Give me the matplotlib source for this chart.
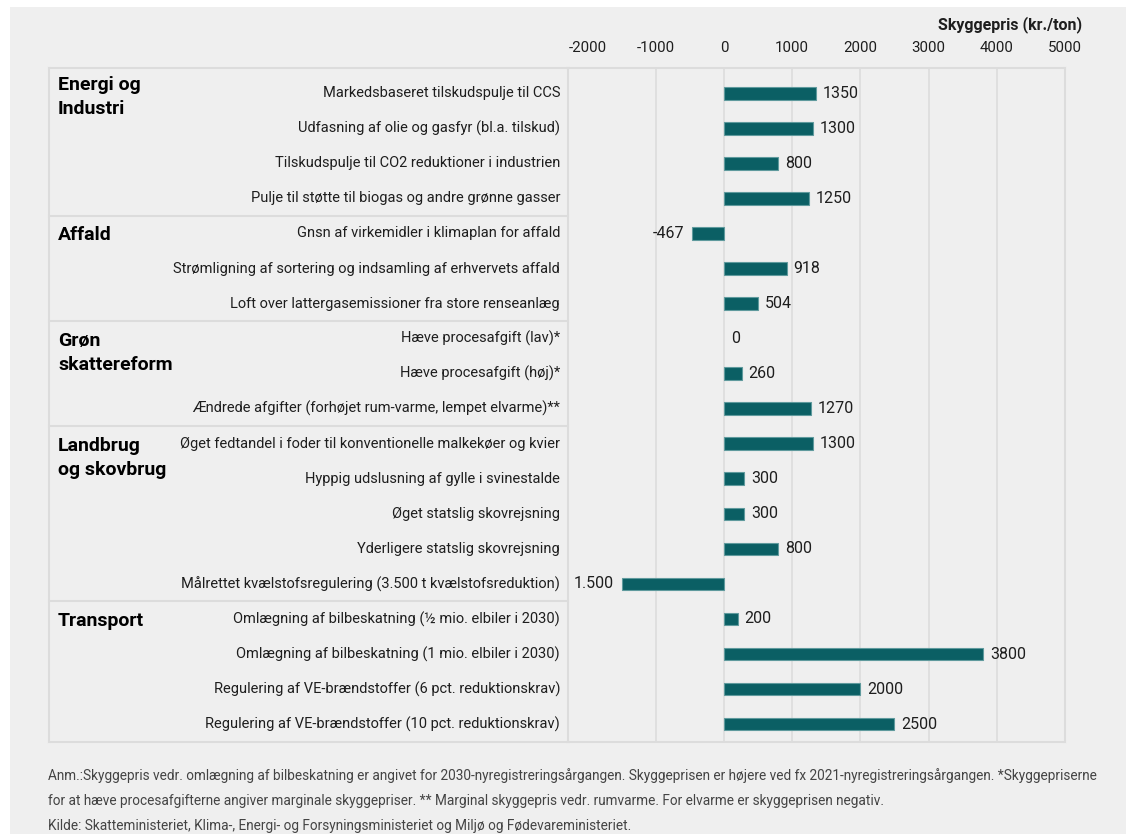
import numpy as np
import matplotlib
matplotlib.use("Agg")
import matplotlib.pyplot as plt
from matplotlib.lines import Line2D
from matplotlib.patches import Rectangle

plt.rcParams['font.family'] = ['Roboto', 'DejaVu Sans']

# data
groups = ["Energi og\nIndustri", "Affald", "Grøn\nskattereform",
          "Landbrug\nog skovbrug", "Transport"]
group_sizes = [4, 3, 3, 5, 4]
categories = [
    "Markedsbaseret tilskudspulje til CCS",
    "Udfasning af olie og gasfyr (bl.a. tilskud)",
    "Tilskudspulje til CO2 reduktioner i industrien",
    "Pulje til støtte til biogas og andre grønne gasser",
    "Gnsn af virkemidler i klimaplan for affald",
    "Strømligning af sortering og indsamling af erhvervets affald",
    "Loft over lattergasemissioner fra store renseanlæg",
    "Hæve procesafgift (lav)*",
    "Hæve procesafgift (høj)*",
    "Ændrede afgifter (forhøjet rum-varme, lempet elvarme)**",
    "Øget fedtandel i foder til konventionelle malkekøer og kvier",
    "Hyppig udslusning af gylle i svinestalde",
    "Øget statslig skovrejsning",
    "Yderligere statslig skovrejsning",
    "Målrettet kvælstofsregulering (3.500 t kvælstofsreduktion)",
    "Omlægning af bilbeskatning (½ mio. elbiler i 2030)",
    "Omlægning af bilbeskatning (1 mio. elbiler i 2030)",
    "Regulering af VE-brændstoffer (6 pct. reduktionskrav)",
    "Regulering af VE-brændstoffer (10 pct. reduktionskrav)",
]
values = [1350, 1300, 800, 1250, -467, 918, 504, 0, 260, 1270,
          1300, 300, 300, 800, -1500, 200, 3800, 2000, 2500]
value_labels = ["1350", "1300", "800", "1250", "-467", "918", "504", "0", "260", "1270",
                "1300", "300", "300", "800", "1.500", "200", "3800", "2000", "2500"]
ticks = [-2000, -1000, 0, 1000, 2000, 3000, 4000, 5000]
notes = [
    "Anm.:Skyggepris vedr. omlægning af bilbeskatning er angivet for 2030-nyregistreringsårgangen. "
    "Skyggeprisen er højere ved fx 2021-nyregistreringsårgangen. *Skyggepriserne",
    "for at hæve procesafgifterne angiver marginale skyggepriser. ** Marginal skyggepris vedr. rumvarme. "
    "For elvarme er skyggeprisen negativ.",
    "Kilde: Skatteministeriet, Klima-, Energi- og Forsyningsministeriet og Miljø og Fødevareministeriet.",
]

W, H = 1126, 834
BG = '#efefef'
LINE = '#dcdcdc'
BAR = '#0b5f64'
TXT = '#1e1e1e'

fig = plt.figure(figsize=(W / 100, H / 100), dpi=100, facecolor='white')
fig.patches.append(Rectangle((10 / W, 0), 1, 1 - 7 / H, transform=fig.transFigure,
                             facecolor=BG, edgecolor='none', zorder=-10))

ax_l, ax_r, ax_t, ax_b = 567.7, 1065, 67.5, 742
ax = fig.add_axes([ax_l / W, 1 - ax_b / H, (ax_r - ax_l) / W, (ax_b - ax_t) / H])
ax.set_facecolor(BG)

def axx(px):
    return (px - ax_l) / (ax_r - ax_l)

n = len(categories)
rows = np.arange(n)
ax.set_xlim(-2290, 5000)
ax.set_ylim(n - 1 + 0.51, -0.735)
row_px = (ax_b - ax_t) / (n - 1 + 0.51 + 0.735)

lws = [0 if v == 0 else 0.8 for v in values]
ax.barh(rows, values, height=0.36, color=BAR, edgecolor='#5f9a9d', linewidth=lws, zorder=3)

for r, v, lab in zip(rows, values, value_labels):
    if v < 0:
        ax.annotate(lab, (v, r), xytext=(-5.5, 0), textcoords='offset points',
                    ha='right', va='center', fontsize=11.5, color=TXT)
    else:
        ax.annotate(lab, (v, r), xytext=(5, 0), textcoords='offset points',
                    ha='left', va='center', fontsize=11.5, color=TXT)

# axis styling
ax.set_xticks(ticks)
ax.set_xticklabels([str(t) for t in ticks])
ax.xaxis.tick_top()
ax.tick_params(axis='x', length=0, pad=9, labelsize=10.8, labelcolor=TXT)
ax.set_yticks([])
ax.xaxis.grid(True, color=LINE, linewidth=1.2, zorder=0)
ax.get_xgridlines()[0].set_visible(False)
for s in ax.spines.values():
    s.set_color(LINE)
    s.set_linewidth(1.5)

# label column frame
yt = ax.get_yaxis_transform()
left = axx(49)
for y in (0, 1):
    ax.add_line(Line2D([left, 0], [y, y], transform=ax.transAxes, color=LINE,
                       linewidth=1.5, clip_on=False))
ax.add_line(Line2D([left, left], [0, 1], transform=ax.transAxes, color=LINE,
                   linewidth=1.5, clip_on=False))

start = 0
for g, size in zip(groups, group_sizes):
    y0 = start + 2 / row_px - (0.3 if start == 0 else 0)
    for k, part in enumerate(g.split("\n")):
        ax.text(axx(58), y0 + k * 24 / row_px, part, transform=yt, ha='left', va='center',
                fontsize=14, fontweight='bold', color='black')
    if start > 0:
        ax.add_line(Line2D([left, 0], [start - 0.5, start - 0.5], transform=yt,
                           color=LINE, linewidth=1.5, clip_on=False))
    start += size

for r, c in zip(rows, categories):
    ax.text(axx(560), r, c, transform=yt, ha='right', va='center',
            fontsize=10.5, color=TXT)

fig.text(1082 / W, 1 - 25 / H, "Skyggepris (kr./ton)", ha='right', va='center',
         fontsize=11.5, fontweight='bold', color=TXT)

for i, line in enumerate(notes):
    fig.text(48 / W, 1 - (776 + 25 * i) / H, line, ha='left', va='center',
             fontsize=9.8, color='#444444',
             family=['Liberation Sans Narrow', 'Roboto', 'DejaVu Sans'])

fig.savefig("out.png", dpi=100, facecolor=fig.get_facecolor())
